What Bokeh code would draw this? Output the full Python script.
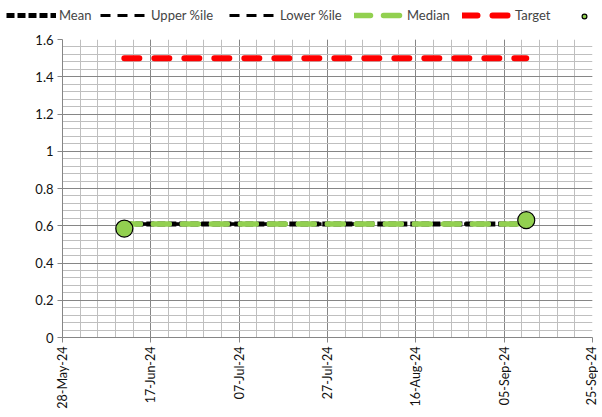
from datetime import datetime, timedelta
from bokeh.plotting import figure
from bokeh.layouts import column
from bokeh.models import (Range1d, FixedTicker, DatetimeTickFormatter, NumeralTickFormatter,
                          Legend, LegendItem, ColumnDataSource)
from bokeh.embed import file_html
from bokeh.resources import INLINE
import math

# ---- data ----
dates = ["2024-06-11", "2024-06-18", "2024-06-25", "2024-07-02", "2024-07-09",
         "2024-07-16", "2024-07-23", "2024-07-30", "2024-08-06", "2024-08-13",
         "2024-08-20", "2024-08-27", "2024-09-03", "2024-09-10"]
mean_vals = [0.61, 0.61, 0.61, 0.61, 0.61, 0.61, 0.61, 0.61, 0.61, 0.61, 0.61, 0.61, 0.61, 0.61]
upper_vals = [0.61, 0.61, 0.61, 0.61, 0.61, 0.61, 0.61, 0.61, 0.61, 0.61, 0.61, 0.61, 0.61, 0.61]
lower_vals = [0.61, 0.61, 0.61, 0.61, 0.61, 0.61, 0.61, 0.61, 0.61, 0.61, 0.61, 0.61, 0.61, 0.61]
median_vals = [0.61, 0.61, 0.61, 0.61, 0.61, 0.61, 0.61, 0.61, 0.61, 0.61, 0.61, 0.61, 0.61, 0.61]
target_vals = [1.5, 1.5, 1.5, 1.5, 1.5, 1.5, 1.5, 1.5, 1.5, 1.5, 1.5, 1.5, 1.5, 1.5]
point_dates = ["2024-06-11", "2024-09-10"]
point_vals = [0.585, 0.63]
legend_labels = ["Mean", "Upper %ile", "Lower %ile", "Median", "Target", ""]

x_start = "2024-05-28"
x_end = "2024-09-25"
x_major_days = 20
x_minor_days = 4
y_ticks = [0, 0.2, 0.4, 0.6, 0.8, 1.0, 1.2, 1.4, 1.6]
y_minor_step = 0.04

def d(s):
    return datetime.strptime(s, "%Y-%m-%d")

def ms(dt):
    return (dt - datetime(1970, 1, 1)).total_seconds() * 1000.0

xs = [d(s) for s in dates]
pxs = [d(s) for s in point_dates]
x0, x1 = d(x_start), d(x_end)
ndays = (x1 - x0).days
major_x = [ms(x0 + timedelta(days=i)) for i in range(0, ndays + 1, x_major_days)]
minor_x = [ms(x0 + timedelta(days=i)) for i in range(0, ndays + 1, x_minor_days)]
minor_y = [round(i * y_minor_step, 4) for i in range(int(round(1.6 / y_minor_step)) + 1)]

FONT = "Lato"
GREEN = "#92D050"
RED = "#FF0000"
FH = 298
LEG_H = 32

src = ColumnDataSource(dict(x=xs, mean=mean_vals, upper=upper_vals, lower=lower_vals,
                            median=median_vals, target=target_vals))
psrc = ColumnDataSource(dict(x=pxs, y=point_vals))


def add_series(fig, pt_size=17):
    r_upper = fig.line("x", "upper", source=src, line_color="black", line_width=3, line_dash="10 7")
    r_lower = fig.line("x", "lower", source=src, line_color="black", line_width=3, line_dash="10 7")
    r_mean = fig.line("x", "mean", source=src, line_color="black", line_width=5, line_dash="8 3")
    r_median = fig.line("x", "median", source=src, line_color=GREEN, line_width=5.5,
                        line_dash="16 13", line_cap="round")
    r_target = fig.line("x", "target", source=src, line_color=RED, line_width=6,
                        line_dash="15 15", line_cap="round")
    r_pts = fig.scatter("x", "y", source=psrc, size=pt_size, fill_color=GREEN, line_color="black",
                        line_width=1.2)
    return r_mean, r_upper, r_lower, r_median, r_target, r_pts


# ---- main chart ----
p = figure(frame_width=530, frame_height=FH, output_backend="svg", toolbar_location=None,
           x_axis_type="datetime",
           x_range=Range1d(ms(x0), ms(x1)), y_range=Range1d(0, 1.6),
           min_border_left=62, min_border_right=6, min_border_top=39 - LEG_H,
           min_border_bottom=0)
p.outline_line_color = None
add_series(p)

p.xaxis.ticker = FixedTicker(ticks=major_x, minor_ticks=minor_x)
p.xaxis.formatter = DatetimeTickFormatter(days="%d-%b-%y", months="%d-%b-%y")
p.xaxis.major_label_orientation = math.pi / 2
p.yaxis.ticker = FixedTicker(ticks=y_ticks, minor_ticks=minor_y)
p.yaxis.formatter = NumeralTickFormatter(format="0.[0]")
for ax in (p.xaxis, p.yaxis):
    ax.axis_line_color = "#868686"
    ax.major_tick_line_color = "#868686"
    ax.major_tick_out = 5
    ax.major_tick_in = 0
    ax.minor_tick_line_color = None
    ax.major_label_text_font = FONT
    ax.major_label_text_font_size = "13px"
    ax.major_label_text_color = "#111111"
p.xaxis.major_label_text_font_size = "12.5px"
p.xaxis.major_label_standoff = 4
p.yaxis.major_label_standoff = 4

for g in (p.xgrid, p.ygrid):
    g.grid_line_color = "#868686"
    g.grid_line_width = 1
    g.minor_grid_line_color = "#BFBFBF"
    g.minor_grid_line_width = 1

# ---- legend strip (series drawn outside its view, only the legend shows) ----
lf = figure(width=598, height=LEG_H, output_backend="svg", toolbar_location=None,
            x_range=Range1d(0, 1), y_range=Range1d(0, 1), min_border=0)
lf.axis.visible = False
lf.grid.visible = False
lf.outline_line_color = None
renderers = add_series(lf, pt_size=7)

offset = 0
try:
    lf.frame_align = False
    p.frame_align = False
except Exception:
    offset = 62

leg_x = [6, 100, 229, 354, 462, 578]
leg_w = [50, 48, 48, 50, 50, 12]
for lab, rend, lx, gw in zip(legend_labels, renderers, leg_x, leg_w):
    lg = Legend(items=[LegendItem(label=lab if lab else " ", renderers=[rend])],
                location=(lx - offset, 9), border_line_color=None, background_fill_alpha=0,
                label_text_font=FONT, label_text_font_size="13px",
                glyph_width=gw, glyph_height=14, label_height=14, label_standoff=3,
                padding=0, margin=0)
    lf.add_layout(lg)

layout = column(lf, p, spacing=0)
open("out.html", "w").write(file_html(layout, INLINE))
